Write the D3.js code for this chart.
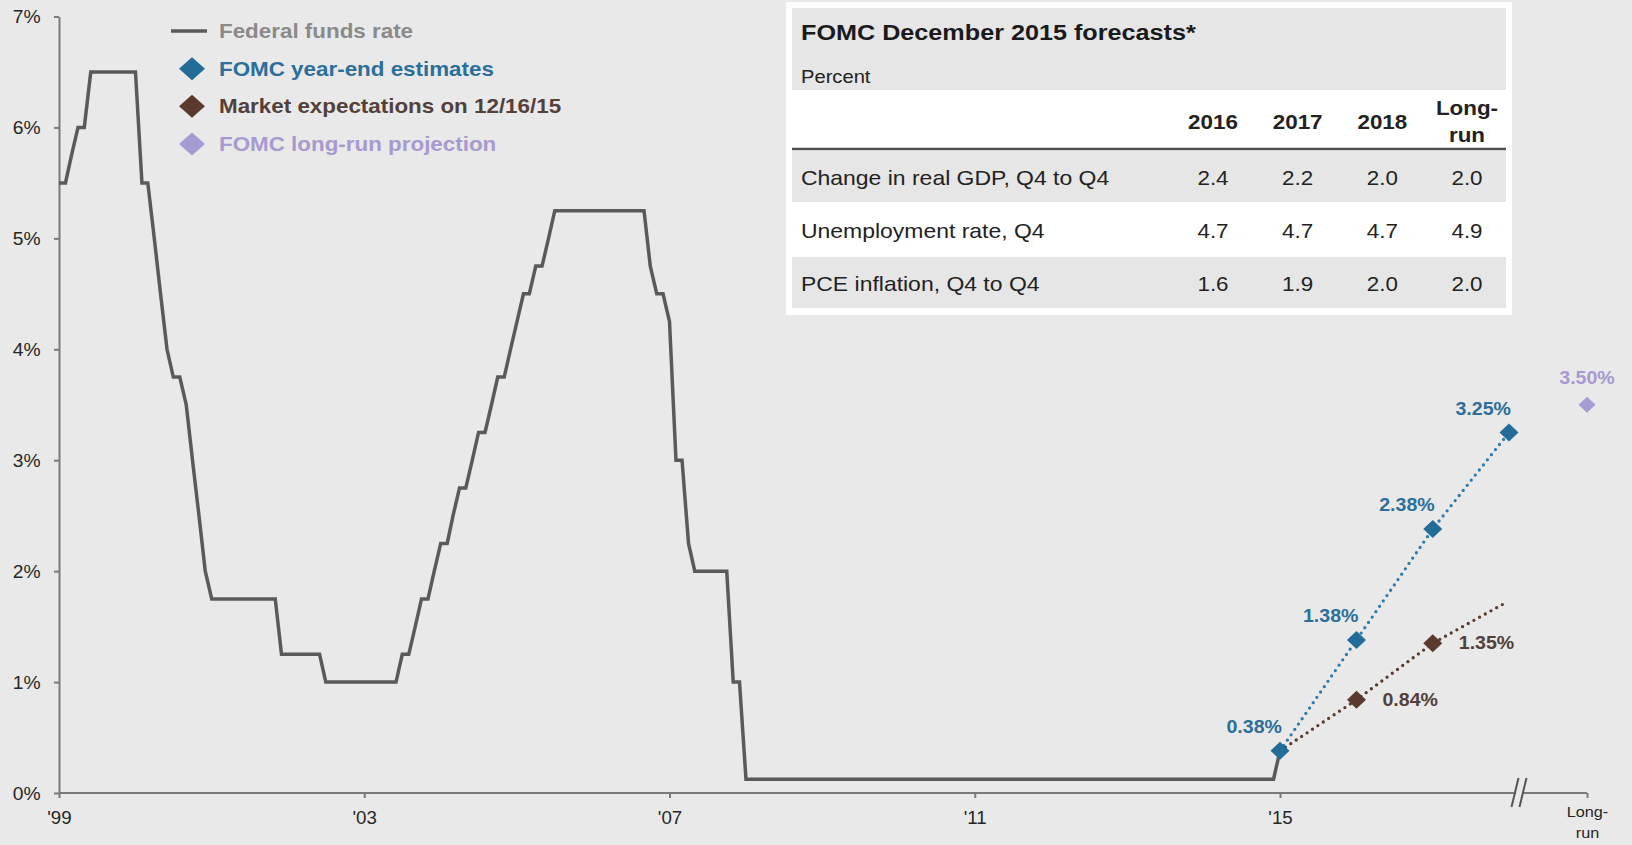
<!DOCTYPE html>
<html>
<head>
<meta charset="utf-8">
<script src="https://cdn.jsdelivr.net/npm/d3@7"></script>
<style>
  html, body { margin: 0; padding: 0; background: #e9e9e9; }
  svg { display: block; }
</style>
</head>
<body>
<svg id="chart" width="1632" height="845"></svg>
<script>
// ---------------- DATA ----------------
// Federal funds target rate, corner points of the monthly line (end of month)
const fedDates = ["1999-12","2000-01","2000-02","2000-03","2000-04","2000-05","2000-12",
  "2001-01","2001-02","2001-03","2001-04","2001-05","2001-06","2001-07","2001-08","2001-09",
  "2001-10","2001-11","2001-12","2002-10","2002-11","2003-05","2003-06","2004-05","2004-06",
  "2004-07","2004-08","2004-09","2004-10","2004-11","2004-12","2005-01","2005-02","2005-03",
  "2005-04","2005-05","2005-06","2005-07","2005-08","2005-09","2005-10","2005-11","2005-12",
  "2006-01","2006-02","2006-03","2006-04","2006-05","2006-06","2007-08","2007-09","2007-10",
  "2007-11","2007-12","2008-01","2008-02","2008-03","2008-04","2008-09","2008-10","2008-11",
  "2008-12","2015-11","2015-12"];
const fedRates = [5.50,5.50,5.75,6.00,6.00,6.50,6.50,
  5.50,5.50,5.00,4.50,4.00,3.75,3.75,3.50,3.00,
  2.50,2.00,1.75,1.75,1.25,1.25,1.00,1.00,1.25,
  1.25,1.50,1.75,1.75,2.00,2.25,2.25,2.50,2.75,
  2.75,3.00,3.25,3.25,3.50,3.75,3.75,4.00,4.25,
  4.50,4.50,4.75,4.75,5.00,5.25,5.25,4.75,4.50,
  4.50,4.25,3.00,3.00,2.25,2.00,2.00,1.00,1.00,
  0.125,0.125,0.38];

// FOMC year-end estimates (year-end of each year)
const estYears  = ["2015","2016","2017","2018"];
const estValues = [0.38, 1.38, 2.38, 3.25];
const estLabels = ["0.38%","1.38%","2.38%","3.25%"];

// Market expectations on 12/16/15 (end of month)
const mktDates  = ["2015-12","2016-12","2017-12","2018-11"];
const mktValues = [0.38, 0.84, 1.35, 1.70];
const mktLabels = ["", "0.84%", "1.35%", ""];
const mktMarked = [false, true, true, false];

// FOMC long-run projection
const longRunValue = 3.50;
const longRunLabel = "3.50%";

// Axes
const yTicks = [0,1,2,3,4,5,6,7];
const xTickYears  = ["1999","2003","2007","2011","2015"];
const xTickLabels = ["'99","'03","'07","'11","'15"];
const longRunTick = ["Long-","run"];

// Legend
const legendNames = ["Federal funds rate","FOMC year-end estimates","Market expectations on 12/16/15","FOMC long-run projection"];

// Table
const tableTitle = "FOMC December 2015 forecasts*";
const tableUnit  = "Percent";
const tableCols  = ["2016","2017","2018","Long-run"];
const tableRows  = ["Change in real GDP, Q4 to Q4","Unemployment rate, Q4","PCE inflation, Q4 to Q4"];
const gdpValues   = ["2.4","2.2","2.0","2.0"];
const unempValues = ["4.7","4.7","4.7","4.9"];
const pceValues   = ["1.6","1.9","2.0","2.0"];

// ---------------- STYLE ----------------
const FONT = "'Liberation Sans', Arial, Helvetica, sans-serif";
const SX = 1.12;           // horizontal stretch of the original picture
const SXT = 1.04;          // stretch for axis tick labels
const BG = "#e9e9e9";
const C = {
  axis: "#7a7a7a", tick: "#262626", fed: "#5a5a5a", fedText: "#8a8a8a",
  est: "#216c98", estLine: "#2f7aab", estText: "#2c6f9b",
  mkt: "#5a3a2d", mktText: "#54403a",
  lr: "#a79bd3", lrText: "#a79ad0",
  tableGrey: "#e6e6e6", tableText: "#222222", rule: "#4f4f4f"
};

// ---------------- SETUP ----------------
const svg = d3.select("#chart").attr("font-family", FONT);
svg.append("rect").attr("width", 1632).attr("height", 845).attr("fill", BG);

const parseM = d3.utcParse("%Y-%m");
const parseY = d3.utcParse("%Y");
const endOfMonth = s => d3.utcMonth.offset(parseM(s), 1);
const endOfYear  = s => d3.utcYear.offset(parseY(s), 1);

const x   = d3.scaleUtc().domain([endOfYear("1999"), endOfYear("2018")]).range([59, 1509]);
const xLR = d3.scalePoint().domain(["break", "Long-run"]).range([1519, 1587]);
const y   = d3.scaleLinear().domain([0, 7]).range([793, 16.5]);

function txt(parent, px, py, s, o) {
  return parent.append("text")
    .attr("transform", `translate(${px},${py}) scale(${SX},1)`)
    .attr("text-anchor", o.anchor || "start")
    .attr("dy", "0.35em")
    .attr("font-size", o.size)
    .attr("font-weight", o.weight || "normal")
    .attr("fill", o.color)
    .text(s);
}
function diamond(hw, hh) {
  const p = d3.path();
  p.moveTo(0, -hh); p.lineTo(hw, 0); p.lineTo(0, hh); p.lineTo(-hw, 0); p.closePath();
  return p.toString();
}

// ---------------- AXES ----------------
const gy = svg.append("g")
  .attr("transform", `translate(${x.range()[0]},0)`)
  .call(d3.axisLeft(y).tickValues(yTicks).tickFormat(d => d + "%").tickSize(5).tickSizeOuter(0));
gy.attr("font-family", FONT);
gy.select(".domain").attr("stroke", C.axis).attr("stroke-width", 2);
gy.selectAll(".tick line").attr("stroke", C.axis).attr("stroke-width", 2);
gy.selectAll(".tick text")
  .attr("x", null).attr("dy", "0.35em")
  .attr("transform", `translate(-18.5,0) scale(${SXT},1)`)
  .attr("font-size", 18.5).attr("fill", C.tick);

const gx = svg.append("g")
  .attr("transform", `translate(0,${y(0)})`)
  .call(d3.axisBottom(x).tickValues(xTickYears.map(endOfYear))
        .tickFormat((d, i) => xTickLabels[i]).tickSize(5).tickSizeOuter(0));
gx.attr("font-family", FONT);
gx.select(".domain").remove();
gx.selectAll(".tick line").attr("stroke", C.axis).attr("stroke-width", 2);
gx.selectAll(".tick text")
  .attr("y", null).attr("dy", "0.35em")
  .attr("transform", `translate(0,25) scale(${SXT},1)`)
  .attr("font-size", 18).attr("fill", C.tick);

const gx2 = svg.append("g")
  .attr("transform", `translate(0,${y(0)})`)
  .call(d3.axisBottom(xLR).tickValues(["Long-run"]).tickSize(5).tickSizeOuter(0));
gx2.attr("font-family", FONT);
gx2.select(".domain").remove();
gx2.selectAll(".tick line").attr("stroke", C.axis).attr("stroke-width", 2);
const lrText = gx2.selectAll(".tick text")
  .attr("y", null).attr("dy", null).text(null)
  .attr("transform", `translate(0,19) scale(${SX},1)`)
  .attr("font-size", 14.5).attr("fill", C.tick);
lrText.selectAll("tspan").data(longRunTick).join("tspan")
  .attr("x", 0).attr("y", (d, i) => i * 21).attr("dy", "0.35em").text(d => d);

// main x-axis line
svg.append("line")
  .attr("x1", x.range()[0]).attr("x2", xLR("Long-run"))
  .attr("y1", y(0)).attr("y2", y(0))
  .attr("stroke", C.axis).attr("stroke-width", 2);

// axis break "//"
const xb = xLR("break");
svg.append("rect").attr("x", xb - 3).attr("y", y(0) - 3).attr("width", 6).attr("height", 6).attr("fill", BG);
[-4, 4].forEach(off => {
  svg.append("line")
    .attr("x1", xb + off - 3.5).attr("y1", y(0) + 14)
    .attr("x2", xb + off + 3.5).attr("y2", y(0) - 15)
    .attr("stroke", "#555").attr("stroke-width", 2);
});

// ---------------- SERIES ----------------
const fedData = fedDates.map((d, i) => ({ date: endOfMonth(d), v: fedRates[i] }));
const estData = estYears.map((d, i) => ({ date: endOfYear(d), v: estValues[i], label: estLabels[i] }));
const mktData = mktDates.map((d, i) => ({ date: endOfMonth(d), v: mktValues[i], label: mktLabels[i], marked: mktMarked[i] }));

const line = d3.line().x(d => x(d.date)).y(d => y(d.v));

svg.append("path").datum(fedData)
  .attr("d", line).attr("fill", "none")
  .attr("stroke", C.fed).attr("stroke-width", 3.5).attr("stroke-linejoin", "miter");

svg.append("path").datum(mktData)
  .attr("d", line).attr("fill", "none")
  .attr("stroke", C.mkt).attr("stroke-width", 3.3)
  .attr("stroke-linecap", "round").attr("stroke-dasharray", "0,6.5");

svg.append("path").datum(estData)
  .attr("d", line).attr("fill", "none")
  .attr("stroke", C.estLine).attr("stroke-width", 3.3)
  .attr("stroke-linecap", "round").attr("stroke-dasharray", "0,6.5");

// markers
svg.selectAll(".mkt").data(mktData.filter(d => d.marked)).join("path")
  .attr("class", "mkt")
  .attr("transform", d => `translate(${x(d.date)},${y(d.v)})`)
  .attr("d", diamond(9.5, 9)).attr("fill", C.mkt);

svg.selectAll(".est").data(estData).join("path")
  .attr("class", "est")
  .attr("transform", d => `translate(${x(d.date)},${y(d.v)})`)
  .attr("d", diamond(9.5, 9)).attr("fill", C.est);

svg.append("path")
  .attr("transform", `translate(${xLR("Long-run")},${y(longRunValue)})`)
  .attr("d", diamond(8.5, 8)).attr("fill", C.lr);

// data labels
estData.forEach(d => txt(svg, x(d.date) + 2, y(d.v) - 24, d.label, { anchor: "end", size: 17.5, weight: "bold", color: C.estText }));
mktData.filter(d => d.marked).forEach(d => txt(svg, x(d.date) + 26, y(d.v), d.label, { size: 17.5, weight: "bold", color: C.mktText }));
txt(svg, xLR("Long-run"), y(longRunValue) - 27, longRunLabel, { anchor: "middle", size: 17.5, weight: "bold", color: C.lrText });

// ---------------- LEGEND ----------------
const legY = d3.scalePoint().domain(legendNames).range([31, 144]);
const legColors = [C.fedText, C.estText, C.mktText, C.lrText];
const legMarks = [null, C.est, C.mkt, C.lr];
const gl = svg.append("g");
legendNames.forEach((name, i) => {
  const ly = legY(name);
  if (i === 0) {
    gl.append("line").attr("x1", 171).attr("x2", 207).attr("y1", ly).attr("y2", ly)
      .attr("stroke", C.fed).attr("stroke-width", 3.5);
  } else {
    gl.append("path").attr("transform", `translate(192,${ly})`)
      .attr("d", diamond(13, 11.5)).attr("fill", legMarks[i]);
  }
  txt(gl, 219, ly, name, { size: 20, weight: "bold", color: legColors[i] });
});

// ---------------- TABLE ----------------
const gt = svg.append("g");
gt.append("rect").attr("x", 786).attr("y", 2).attr("width", 726).attr("height", 313).attr("fill", "#ffffff");
gt.append("rect").attr("x", 792).attr("y", 8).attr("width", 714).attr("height", 82).attr("fill", C.tableGrey);

const rowY = d3.scaleBand().domain(tableRows).range([151, 310]);
tableRows.forEach((r, i) => {
  if (i % 2 === 0) {
    gt.append("rect").attr("x", 792).attr("y", rowY(r)).attr("width", 714)
      .attr("height", rowY.bandwidth() - 2).attr("fill", C.tableGrey);
  }
});
gt.append("line").attr("x1", 792).attr("x2", 1506).attr("y1", 149).attr("y2", 149)
  .attr("stroke", C.rule).attr("stroke-width", 2.5);

txt(gt, 801, 32, tableTitle, { size: 22.5, weight: "bold", color: "#1a1a1a" });
txt(gt, 801, 77, tableUnit, { size: 18, color: C.tableText });

const colX = d3.scalePoint().domain(tableCols).range([1213, 1467]);
tableCols.forEach(c => {
  if (c === "Long-run") {
    txt(gt, colX(c), 108, "Long-", { anchor: "middle", size: 20, weight: "bold", color: C.tableText });
    txt(gt, colX(c), 135, "run", { anchor: "middle", size: 20, weight: "bold", color: C.tableText });
  } else {
    txt(gt, colX(c), 122, c, { anchor: "middle", size: 20, weight: "bold", color: C.tableText });
  }
});

const rowValues = [gdpValues, unempValues, pceValues];
tableRows.forEach((r, i) => {
  const cy = rowY(r) + rowY.bandwidth() / 2;
  txt(gt, 801, cy, r, { size: 20.5, color: C.tableText });
  tableCols.forEach((c, j) => {
    txt(gt, colX(c), cy, rowValues[i][j], { anchor: "middle", size: 20, color: C.tableText });
  });
});
</script>
</body>
</html>
